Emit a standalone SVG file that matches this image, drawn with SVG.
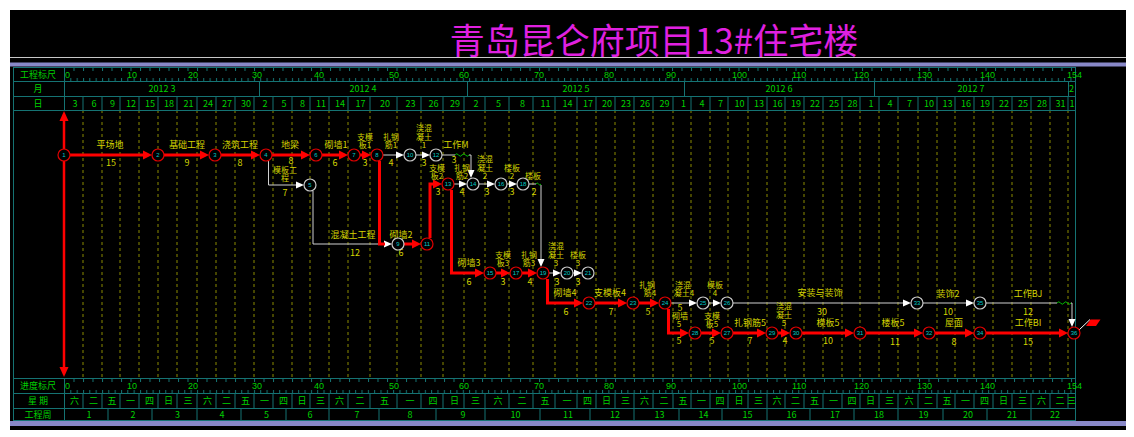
<svg xmlns="http://www.w3.org/2000/svg" width="1134" height="437" viewBox="0 0 1134 437">
<defs>
<style>
.t{font-family:"Noto Sans CJK SC","Liberation Sans",sans-serif;font-size:9px;fill:#d4d400;text-anchor:middle}
.s{font-size:8px}
.h{font-family:"Noto Sans CJK SC","Liberation Sans",sans-serif;font-size:9px;fill:#00d000;text-anchor:middle}
.hs{font-family:"Liberation Sans","Noto Sans CJK SC",sans-serif;font-size:9px;fill:#00d000;text-anchor:start}
.g{stroke:#157373;stroke-width:1;fill:none}
.dash{stroke:#8a8a00;stroke-width:1;stroke-dasharray:3 3;fill:none}
.cr{stroke:#ff0000;stroke-width:3;fill:none}
.nc{stroke:#d0d0d0;stroke-width:1;fill:none}
.nr circle{fill:#000;stroke:#e00000;stroke-width:1.2}
.ng circle{fill:#000;stroke:#c8c8c8;stroke-width:1.2}
.nl{font-family:"Liberation Sans",sans-serif;font-size:6px;fill:#00c8c8;text-anchor:middle}
.ar{fill:#ff0000}
.aw{fill:#ffffff}
.wv{stroke:#00c000;stroke-width:1;fill:none}
</style>
<pattern id="tkb" x="64" y="0" width="6.33" height="437" patternUnits="userSpaceOnUse"><rect x="0" y="0" width="1" height="437" fill="#157373"/></pattern>
<pattern id="tkt" x="64" y="0" width="9.5" height="437" patternUnits="userSpaceOnUse"><rect x="0" y="0" width="1" height="437" fill="#157373"/></pattern>
</defs>
<rect width="1134" height="437" fill="#ffffff"/>
<rect x="10" y="10" width="1116" height="420" fill="#000000"/>
<text x="654" y="54" style="font-family:'Noto Sans CJK SC','Liberation Serif',serif;font-size:35px;fill:#e020e0;text-anchor:middle">青岛昆仑府项目13#住宅楼</text>
<line x1="10" y1="57.5" x2="1126" y2="57.5" stroke="#c8c8c8"/>
<rect x="10" y="62.5" width="1116" height="4" fill="#8888c8"/>
<rect x="10" y="421" width="1116" height="5" fill="#8888c8"/>

<g id="grid">
<path class="dash" d="M83 110V378M102 110V378M120 110V378M139 110V378M158 110V378M177 110V378M197 110V378M216 110V378M235 110V378M254 110V378M273 110V378M292 110V378M310 110V378M329 110V378M348 110V378M370 110V378M397 110V378M421 110V378M443 110V378M464 110V378M485 110V378M509 110V378M533 110V378M555 110V378M577 110V378M596 110V378M615 110V378M634 110V378M653 110V378M673 110V378M691 110V378M710 110V378M728 110V378M748 110V378M767 110V378M785 110V378M804 110V378M823 110V378M842 110V378M860 110V378M879 110V378M898 110V378M918 110V378M937 110V378M955 110V378M974 110V378M993 110V378M1012 110V378M1031 110V378M1050 110V378M1068 110V378"/>
<path class="g" d="M13.5 67V421M1075.5 67V421M64.5 67V110M64.5 378V421M13 67.5H1076M13 81.5H1076M13 96.5H1076M13 110.5H1076M13 378.5H1076M13 393.5H1076M13 408.5H1076M13 420.5H1076"/>
<path class="g" d="M259.5 81V96M467.5 81V96M684.5 81V96M874.5 81V96M1068.5 81V96"/>
<path class="g" d="M83 96V110M102 96V110M120 96V110M139 96V110M158 96V110M177 96V110M197 96V110M216 96V110M235 96V110M254 96V110M273 96V110M292 96V110M310 96V110M329 96V110M348 96V110M370 96V110M397 96V110M421 96V110M443 96V110M464 96V110M485 96V110M509 96V110M533 96V110M555 96V110M577 96V110M596 96V110M615 96V110M634 96V110M653 96V110M673 96V110M691 96V110M710 96V110M728 96V110M748 96V110M767 96V110M785 96V110M804 96V110M823 96V110M842 96V110M860 96V110M879 96V110M898 96V110M918 96V110M937 96V110M955 96V110M974 96V110M993 96V110M1012 96V110M1031 96V110M1050 96V110M1068 96V110"/>
<path class="g" d="M83 393V408M102 393V408M120 393V408M139 393V408M158 393V408M177 393V408M197 393V408M216 393V408M235 393V408M254 393V408M273 393V408M292 393V408M310 393V408M329 393V408M348 393V408M370 393V408M397 393V408M421 393V408M443 393V408M464 393V408M485 393V408M509 393V408M533 393V408M555 393V408M577 393V408M596 393V408M615 393V408M634 393V408M653 393V408M673 393V408M691 393V408M710 393V408M728 393V408M748 393V408M767 393V408M785 393V408M804 393V408M823 393V408M842 393V408M860 393V408M879 393V408M898 393V408M918 393V408M937 393V408M955 393V408M974 393V408M993 393V408M1012 393V408M1031 393V408M1050 393V408M1068 393V408"/>
<path class="g" d="M108 408V421M152 408V421M197 408V421M241 408V421M286 408V421M329 408V421M379 408V421M436 408V421M485 408V421M540 408V421M590 408V421M634 408V421M679 408V421M722 408V421M767 408V421M810 408V421M854 408V421M898 408V421M943 408V421M987 408V421M1031 408V421"/>
<rect x="64" y="78" width="1011" height="3" fill="url(#tkb)"/>
<rect x="64" y="68" width="1011" height="3" fill="url(#tkt)"/>
<rect x="64" y="390" width="1011" height="3" fill="url(#tkb)"/>
<rect x="64" y="379" width="1011" height="3" fill="url(#tkt)"/>
</g>

<g id="header-text">
<text class="h" x="38" y="77.5">工程标尺</text>
<text class="h" x="38" y="92">月</text>
<text class="h" x="38" y="106.5">日</text>
<text class="h" x="38" y="389">进度标尺</text>
<text class="h" x="38" y="404">星  期</text>
<text class="h" x="38" y="418">工程周</text>
<text class="hs" y="77.5"><tspan x="65">0</tspan><tspan x="127">10</tspan><tspan x="188">20</tspan><tspan x="252">30</tspan><tspan x="314">40</tspan><tspan x="389">50</tspan><tspan x="459">60</tspan><tspan x="534">70</tspan><tspan x="604">80</tspan><tspan x="666">90</tspan><tspan x="732">100</tspan><tspan x="792">110</tspan><tspan x="854">120</tspan><tspan x="917">130</tspan><tspan x="980">140</tspan><tspan x="1067">154</tspan></text>
<text class="hs" y="389"><tspan x="65">0</tspan><tspan x="127">10</tspan><tspan x="188">20</tspan><tspan x="252">30</tspan><tspan x="314">40</tspan><tspan x="389">50</tspan><tspan x="459">60</tspan><tspan x="534">70</tspan><tspan x="604">80</tspan><tspan x="666">90</tspan><tspan x="732">100</tspan><tspan x="792">110</tspan><tspan x="854">120</tspan><tspan x="917">130</tspan><tspan x="980">140</tspan><tspan x="1067">154</tspan></text>
<text class="h" y="92"><tspan x="162">2012  3</tspan><tspan x="363">2012  4</tspan><tspan x="576">2012  5</tspan><tspan x="779">2012  6</tspan><tspan x="971">2012  7</tspan><tspan x="1071.5">2</tspan></text>
<text class="h" y="106.5"><tspan x="75">3</tspan><tspan x="94">6</tspan><tspan x="112.5">9</tspan><tspan x="131">12</tspan><tspan x="150">15</tspan><tspan x="169">18</tspan><tspan x="188.5">21</tspan><tspan x="208">24</tspan><tspan x="227">27</tspan><tspan x="246">30</tspan><tspan x="265">2</tspan><tspan x="284">5</tspan><tspan x="302.5">8</tspan><tspan x="321">11</tspan><tspan x="340">14</tspan><tspan x="360.5">17</tspan><tspan x="385">20</tspan><tspan x="410.5">23</tspan><tspan x="433.5">26</tspan><tspan x="455">29</tspan><tspan x="476">2</tspan><tspan x="498.5">5</tspan><tspan x="522.5">8</tspan><tspan x="545.5">11</tspan><tspan x="567.5">14</tspan><tspan x="588">17</tspan><tspan x="607">20</tspan><tspan x="626">23</tspan><tspan x="645">26</tspan><tspan x="664.5">29</tspan><tspan x="683.5">1</tspan><tspan x="702">4</tspan><tspan x="720.5">7</tspan><tspan x="739.5">10</tspan><tspan x="759">13</tspan><tspan x="777.5">16</tspan><tspan x="796">19</tspan><tspan x="815">22</tspan><tspan x="834">25</tspan><tspan x="852.5">28</tspan><tspan x="871">1</tspan><tspan x="890">4</tspan><tspan x="909.5">7</tspan><tspan x="929">10</tspan><tspan x="947.5">13</tspan><tspan x="966">16</tspan><tspan x="985">19</tspan><tspan x="1004">22</tspan><tspan x="1023">25</tspan><tspan x="1042">28</tspan><tspan x="1060.5">31</tspan><tspan x="1072">1</tspan></text>
<text class="h" y="404"><tspan x="74.5">六</tspan><tspan x="93.5">二</tspan><tspan x="112">五</tspan><tspan x="130.5">一</tspan><tspan x="149.5">四</tspan><tspan x="168.5">日</tspan><tspan x="188">三</tspan><tspan x="207.5">六</tspan><tspan x="226.5">二</tspan><tspan x="245.5">五</tspan><tspan x="264.5">一</tspan><tspan x="283.5">四</tspan><tspan x="302">日</tspan><tspan x="320.5">三</tspan><tspan x="339.5">六</tspan><tspan x="360">二</tspan><tspan x="384.5">五</tspan><tspan x="410">一</tspan><tspan x="433">四</tspan><tspan x="454.5">日</tspan><tspan x="475.5">三</tspan><tspan x="498">六</tspan><tspan x="522">二</tspan><tspan x="545">五</tspan><tspan x="567">一</tspan><tspan x="587.5">四</tspan><tspan x="606.5">日</tspan><tspan x="625.5">三</tspan><tspan x="644.5">六</tspan><tspan x="664">二</tspan><tspan x="683">五</tspan><tspan x="701.5">一</tspan><tspan x="720">四</tspan><tspan x="739">日</tspan><tspan x="758.5">三</tspan><tspan x="777">六</tspan><tspan x="795.5">二</tspan><tspan x="814.5">五</tspan><tspan x="833.5">一</tspan><tspan x="852">四</tspan><tspan x="870.5">日</tspan><tspan x="889.5">三</tspan><tspan x="909">六</tspan><tspan x="928.5">二</tspan><tspan x="947">五</tspan><tspan x="965.5">一</tspan><tspan x="984.5">四</tspan><tspan x="1003.5">日</tspan><tspan x="1022.5">三</tspan><tspan x="1041.5">六</tspan><tspan x="1060">二</tspan><tspan x="1071.5">三</tspan></text>
<text class="h" y="418"><tspan x="89">1</tspan><tspan x="133">2</tspan><tspan x="177.5">3</tspan><tspan x="222">4</tspan><tspan x="266.5">5</tspan><tspan x="310">6</tspan><tspan x="357">7</tspan><tspan x="410">8</tspan><tspan x="463">9</tspan><tspan x="515.5">10</tspan><tspan x="568">11</tspan><tspan x="615">12</tspan><tspan x="659.5">13</tspan><tspan x="703.5">14</tspan><tspan x="747.5">15</tspan><tspan x="791.5">16</tspan><tspan x="835">17</tspan><tspan x="879">18</tspan><tspan x="923.5">19</tspan><tspan x="968">20</tspan><tspan x="1012">21</tspan><tspan x="1055">22</tspan></text>
</g>

<g id="edges">
<line x1="64" y1="120" x2="64" y2="368" stroke="#ff0000" stroke-width="2.5"/>
<polygon class="ar" points="64,111 59.5,121 68.5,121"/>
<polygon class="ar" points="64,377 59.5,367 68.5,367"/>
<path class="nc" d="M268.5 161V185H297"/><polygon class="aw" points="304,185 296,181.5 296,188.5"/>
<path class="nc" d="M313 191V244H386"/><polygon class="aw" points="392,244 384,240.5 384,247.5"/>
<path class="nc" d="M383 155H397"/><polygon class="aw" points="404,155 396,151.5 396,158.5"/>
<path class="nc" d="M416 155H423"/><polygon class="aw" points="430,155 422,151.5 422,158.5"/>
<path class="nc" d="M442 155H455M469 155H471V171"/><path class="wv" d="M455 155q1.75 -2.5 3.5 0t3.5 0t3.5 0t3.5 0"/><polygon class="aw" points="471,178 467.5,170 474.5,170"/>
<path class="nc" d="M454 184H460"/><polygon class="aw" points="467,184 459,180.5 459,187.5"/>
<path class="nc" d="M479 184H488"/><polygon class="aw" points="495,184 487,180.5 487,187.5"/>
<path class="nc" d="M507 184H510"/><polygon class="aw" points="517,184 509,180.5 509,187.5"/>
<path class="nc" d="M529 184H536M541 185V260"/><path class="wv" d="M536 184q1.25 -2 2.5 0t2.5 0"/><polygon class="aw" points="541,267 537.5,259 544.5,259"/>
<path class="nc" d="M549 273H554"/><polygon class="aw" points="561,273 553,269.5 553,276.5"/>
<path class="nc" d="M573 273H575"/><polygon class="aw" points="582,273 574,269.5 574,276.5"/>
<path class="nc" d="M671 303H690"/><polygon class="aw" points="697,303 689,299.5 689,306.5"/>
<path class="nc" d="M709 303H714"/><polygon class="aw" points="721,303 713,299.5 713,306.5"/>
<path class="nc" d="M733 303H904"/><polygon class="aw" points="911,303 903,299.5 903,306.5"/>
<path class="nc" d="M923 303H967"/><polygon class="aw" points="974,303 966,299.5 966,306.5"/>
<path class="nc" d="M986 303H1057M1071 303H1072V320"/><path class="wv" d="M1057 303q1.75 -2.5 3.5 0t3.5 0t3.5 0t3.5 0"/><polygon class="aw" points="1072,327 1068.5,319 1075.5,319"/>
<path class="cr" d="M70 155H145"/><polygon class="ar" points="152,155 143,150.5 143,159.5"/>
<path class="cr" d="M164 155H202"/><polygon class="ar" points="209,155 200,150.5 200,159.5"/>
<path class="cr" d="M221 155H253"/><polygon class="ar" points="260,155 251,150.5 251,159.5"/>
<path class="cr" d="M272 155H303"/><polygon class="ar" points="310,155 301,150.5 301,159.5"/>
<path class="cr" d="M322 155H341"/><polygon class="ar" points="348,155 339,150.5 339,159.5"/>
<path class="cr" d="M360 155H364"/><polygon class="ar" points="371,155 362,150.5 362,159.5"/>
<path class="cr" d="M379.5 161V244H385"/>
<path class="cr" d="M404 244H413"/><polygon class="ar" points="421,244 412,239.5 412,248.5"/>
<path class="cr" d="M430 238V184H434"/><polygon class="ar" points="442,184 433,179.5 433,188.5"/>
<path class="cr" d="M451.5 190V273H476"/><polygon class="ar" points="484,273 475,268.5 475,277.5"/>
<path class="cr" d="M496 273H502"/><polygon class="ar" points="510,273 501,268.5 501,277.5"/>
<path class="cr" d="M522 273H529"/><polygon class="ar" points="537,273 528,268.5 528,277.5"/>
<path class="cr" d="M547.5 279V303H575"/><polygon class="ar" points="583,303 574,298.5 574,307.5"/>
<path class="cr" d="M595 303H619"/><polygon class="ar" points="627,303 618,298.5 618,307.5"/>
<path class="cr" d="M639 303H651"/><polygon class="ar" points="659,303 650,298.5 650,307.5"/>
<path class="cr" d="M668.5 309V333H681"/><polygon class="ar" points="689,333 680,328.5 680,337.5"/>
<path class="cr" d="M701 333H713"/><polygon class="ar" points="721,333 712,328.5 712,337.5"/>
<path class="cr" d="M733 333H758"/><polygon class="ar" points="766,333 757,328.5 757,337.5"/>
<path class="cr" d="M778 333H782"/><polygon class="ar" points="790,333 781,328.5 781,337.5"/>
<path class="cr" d="M802 333H846"/><polygon class="ar" points="854,333 845,328.5 845,337.5"/>
<path class="cr" d="M866 333H915"/><polygon class="ar" points="923,333 914,328.5 914,337.5"/>
<path class="cr" d="M935 333H966"/><polygon class="ar" points="974,333 965,328.5 965,337.5"/>
<path class="cr" d="M986 333H1060"/><polygon class="ar" points="1068,333 1059,328.5 1059,337.5"/>
<line x1="1079" y1="330" x2="1090" y2="319.5" stroke="#ffffff" stroke-width="1"/>
<polygon points="1086,326 1090.5,319.5 1100.5,319.5 1096,326" fill="#ff0000"/>
</g>

<g id="labels" class="t">
<text x="110" y="148">平场地</text><text x="111" y="166">15</text>
<text x="187" y="148">基础工程</text><text x="187" y="166">9</text>
<text x="240" y="148">浇筑工程</text><text x="240" y="166">8</text>
<text x="290" y="148">地梁</text><text x="291" y="163.5">8</text>
<text class="s" x="285" y="173">模板工</text><text class="s" x="285" y="181">程</text><text x="285" y="196">7</text>
<text x="336" y="148">砌墙1</text><text x="335" y="166">6</text>
<text class="s" x="365" y="140">支模</text><text class="s" x="365" y="148">板1</text><text x="365" y="166">3</text>
<text class="s" x="391" y="140">扎钢</text><text class="s" x="391" y="148">筋1</text><text x="391" y="166">4</text>
<text class="s" x="424" y="131">浇混</text><text class="s" x="424" y="140">凝土</text><text class="s" x="424" y="148">1</text><text x="424" y="166">3</text>
<text x="456" y="148">工作M</text><text x="454" y="163">3</text>
<text x="353" y="238">混凝土工程</text><text x="355" y="256">12</text>
<text x="401" y="238">砌墙2</text><text x="401" y="256">6</text>
<text class="s" x="437" y="171">支模</text><text class="s" x="437" y="179">板2</text><text x="438" y="195">3</text>
<text class="s" x="462" y="171">扎钢</text><text class="s" x="462" y="179">筋2</text><text x="462" y="195">4</text>
<text class="s" x="485" y="162">浇混</text><text class="s" x="485" y="171">凝土</text><text class="s" x="485" y="179">2</text><text x="487" y="195">3</text>
<text class="s" x="512" y="171">楼板</text><text class="s" x="512" y="179">2</text><text x="512" y="195">3</text>
<text class="s" x="533" y="179">楼板</text><text x="534" y="195">2</text>
<text x="469" y="266">砌墙3</text><text x="469" y="285">6</text>
<text class="s" x="503" y="258">支模</text><text class="s" x="503" y="266">板3</text><text x="503" y="285">3</text>
<text class="s" x="529" y="258">扎钢</text><text class="s" x="529" y="266">筋3</text><text x="530" y="285">4</text>
<text class="s" x="556" y="249">浇混</text><text class="s" x="556" y="258">凝土</text><text class="s" x="556" y="266">3</text><text x="557" y="285">3</text>
<text class="s" x="578" y="258">楼板</text><text class="s" x="578" y="266">3</text><text x="578" y="285">3</text>
<text x="565" y="296">砌墙4</text><text x="566" y="315">6</text>
<text x="610" y="296">支模板4</text><text x="611" y="315">7</text>
<text class="s" x="647" y="288">扎钢</text><text class="s" x="650" y="296">筋4</text><text x="648" y="315">5</text>
<text class="s" x="683" y="288">浇混</text><text class="s" x="684" y="296">凝土4</text><text x="680" y="311">5</text>
<text class="s" x="715" y="288">模板</text><text class="s" x="715" y="296">4</text>
<text x="820" y="296">安装与装饰</text><text x="822" y="315">30</text>
<text x="948" y="297">装饰2</text><text x="948" y="315">10</text>
<text x="1028" y="297">工作BJ</text><text x="1028" y="315">12</text>
<text class="s" x="680" y="319">砌墙</text><text class="s" x="679" y="327">5</text><text x="679" y="344">5</text>
<text class="s" x="712" y="319">支模</text><text class="s" x="712" y="327">板5</text><text x="712" y="344">5</text>
<text x="750" y="326">扎钢筋5</text><text x="750" y="344">7</text>
<text class="s" x="784" y="309">浇混</text><text class="s" x="784" y="318">凝土</text><text class="s" x="784" y="326">5</text><text x="785" y="344">4</text>
<text x="828" y="326">模板5</text><text x="828" y="344">10</text>
<text x="893" y="326">楼板5</text><text x="895" y="345">11</text>
<text x="954" y="326">屋面</text><text x="954" y="345">8</text>
<text x="1028" y="326">工作BI</text><text x="1028" y="345">15</text>
</g>

<g id="n1" class="nr"><circle cx="64" cy="155" r="6"/><text class="nl" x="64" y="157">1</text></g>
<g id="n2" class="nr"><circle cx="158" cy="155" r="6"/><text class="nl" x="158" y="157">2</text></g>
<g id="n3" class="nr"><circle cx="215" cy="155" r="6"/><text class="nl" x="215" y="157">3</text></g>
<g id="n4" class="nr"><circle cx="266" cy="155" r="6"/><text class="nl" x="266" y="157">4</text></g>
<g id="n5" class="ng"><circle cx="310" cy="185" r="6"/><text class="nl" x="310" y="187">5</text></g>
<g id="n6" class="nr"><circle cx="316" cy="155" r="6"/><text class="nl" x="316" y="157">6</text></g>
<g id="n7" class="nr"><circle cx="354" cy="155" r="6"/><text class="nl" x="354" y="157">7</text></g>
<g id="n8" class="nr"><circle cx="377" cy="155" r="6"/><text class="nl" x="377" y="157">8</text></g>
<g id="n9" class="ng"><circle cx="398" cy="244" r="6"/><text class="nl" x="398" y="246">9</text></g>
<g id="n10" class="ng"><circle cx="410" cy="155" r="6"/><text class="nl" x="410" y="157">10</text></g>
<g id="n11" class="nr"><circle cx="427" cy="244" r="6"/><text class="nl" x="427" y="246">11</text></g>
<g id="n12" class="ng"><circle cx="436" cy="155" r="6"/><text class="nl" x="436" y="157">12</text></g>
<g id="n13" class="nr"><circle cx="448" cy="184" r="6"/><text class="nl" x="448" y="186">13</text></g>
<g id="n14" class="ng"><circle cx="473" cy="184" r="6"/><text class="nl" x="473" y="186">14</text></g>
<g id="n15" class="nr"><circle cx="490" cy="273" r="6"/><text class="nl" x="490" y="275">15</text></g>
<g id="n16" class="ng"><circle cx="501" cy="184" r="6"/><text class="nl" x="501" y="186">16</text></g>
<g id="n17" class="nr"><circle cx="516" cy="273" r="6"/><text class="nl" x="516" y="275">17</text></g>
<g id="n18" class="ng"><circle cx="523" cy="184" r="6"/><text class="nl" x="523" y="186">18</text></g>
<g id="n19" class="nr"><circle cx="543" cy="273" r="6"/><text class="nl" x="543" y="275">19</text></g>
<g id="n20" class="ng"><circle cx="567" cy="273" r="6"/><text class="nl" x="567" y="275">20</text></g>
<g id="n21" class="ng"><circle cx="588" cy="273" r="6"/><text class="nl" x="588" y="275">21</text></g>
<g id="n22" class="nr"><circle cx="589" cy="303" r="6"/><text class="nl" x="589" y="305">22</text></g>
<g id="n23" class="nr"><circle cx="633" cy="303" r="6"/><text class="nl" x="633" y="305">23</text></g>
<g id="n24" class="nr"><circle cx="665" cy="303" r="6"/><text class="nl" x="665" y="305">24</text></g>
<g id="n25" class="ng"><circle cx="703" cy="303" r="6"/><text class="nl" x="703" y="305">25</text></g>
<g id="n26" class="ng"><circle cx="727" cy="303" r="6"/><text class="nl" x="727" y="305">26</text></g>
<g id="n28" class="nr"><circle cx="695" cy="333" r="6"/><text class="nl" x="695" y="335">28</text></g>
<g id="n27" class="nr"><circle cx="727" cy="333" r="6"/><text class="nl" x="727" y="335">27</text></g>
<g id="n29" class="nr"><circle cx="772" cy="333" r="6"/><text class="nl" x="772" y="335">29</text></g>
<g id="n30" class="nr"><circle cx="796" cy="333" r="6"/><text class="nl" x="796" y="335">30</text></g>
<g id="n31" class="nr"><circle cx="860" cy="333" r="6"/><text class="nl" x="860" y="335">31</text></g>
<g id="n32" class="nr"><circle cx="929" cy="333" r="6"/><text class="nl" x="929" y="335">32</text></g>
<g id="n33" class="ng"><circle cx="917" cy="303" r="6"/><text class="nl" x="917" y="305">33</text></g>
<g id="n34" class="nr"><circle cx="980" cy="333" r="6"/><text class="nl" x="980" y="335">34</text></g>
<g id="n35" class="ng"><circle cx="980" cy="303" r="6"/><text class="nl" x="980" y="305">35</text></g>
<g id="n36" class="nr"><circle cx="1074" cy="333" r="6"/><text class="nl" x="1074" y="335">36</text></g>
</svg>
